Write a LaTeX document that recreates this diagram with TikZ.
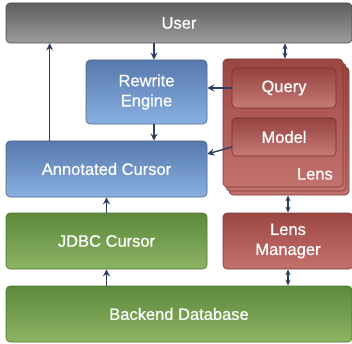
\documentclass[tikz,border=0pt]{standalone}
\usepackage{fontspec}
\setmainfont{Liberation Sans}
\newfontfamily\boxfont[FakeBold=0.6]{Liberation Sans}
\usetikzlibrary{arrows.meta}

\definecolor{graytop}{HTML}{5E5E5E}
\definecolor{graybot}{HTML}{9C9C9C}
\definecolor{blutop}{HTML}{5679AC}
\definecolor{blubot}{HTML}{8AB0E2}
\definecolor{grntop}{HTML}{5E8A3B}
\definecolor{grnbot}{HTML}{8BB464}
\definecolor{redtop}{HTML}{9C4642}
\definecolor{redbot}{HTML}{C4726E}
\definecolor{arrowcol}{HTML}{2C3E62}

\begin{document}
\begin{tikzpicture}[x=1pt,y=-1pt,
  box/.style={rectangle,rounded corners=4pt,inner sep=0pt,align=center,
    text=white,font=\boxfont\fontsize{16.5}{20}\selectfont,line width=0.6pt},
  graybox/.style={box,top color=graytop,bottom color=graybot,draw=graytop!80!black},
  bluebox/.style={box,top color=blutop,bottom color=blubot,draw=blutop!85!black},
  greenbox/.style={box,top color=grntop,bottom color=grnbot,draw=grntop!85!black},
  redbox/.style={box,top color=redtop,bottom color=redbot,draw=redtop!80!black},
  innerred/.style={redbox,top color=redtop!95!black,bottom color=redbot!95!white,draw=redtop!70!black},
  arr/.style={-{Stealth[length=7pt,width=7pt]},line width=1.4pt,draw=arrowcol},
  darr/.style={{Stealth[length=6pt,width=5pt]}-{Stealth[length=6pt,width=5pt]},line width=1.4pt,draw=arrowcol}]
\useasboundingbox (0,0) rectangle (352,344);

% boxes
\node[graybox,minimum width=346pt,minimum height=40pt] (user) at (179,23) {User};
\node[bluebox,minimum width=121pt,minimum height=64pt] (rewrite) at (146.5,92) {Rewrite\\Engine};
\node[bluebox,minimum width=201pt,minimum height=56pt] (annot) at (106.5,169) {Annotated Cursor};
\node[greenbox,minimum width=201pt,minimum height=56pt] (jdbc) at (106.5,241) {JDBC Cursor};
\node[greenbox,minimum width=346pt,minimum height=56pt] (backend) at (179,314) {Backend Database};
\node[redbox,minimum width=130pt,minimum height=56pt] (lensmgr) at (288,241) {Lens\\Manager};

% lens stack
\foreach \dx/\dy/\n in {6/8/lensC,3/4/lensB,0/0/lens}
  \node[redbox,minimum width=120pt,minimum height=128pt] (\n) at (283+\dx,123+\dy) {};
\node[innerred,minimum width=104pt,minimum height=40pt] (query) at (284,88) {Query};
\node[innerred,minimum width=104pt,minimum height=38pt] (model) at (284,137) {Model};
\node[text=white,font=\boxfont\fontsize{16.5}{20}\selectfont,anchor=east,inner sep=0pt] (lenslbl) at (333,174) {Lens};

% arrows
\draw[arr] ([xshift=44pt]annot.north west) -- ([xshift=44pt]annot.north west |- user.south);
\draw[arr] ([xshift=7.5pt]rewrite.north |- user.south) -- ([xshift=7.5pt]rewrite.north);
\draw[darr] ([xshift=2pt]lens.north |- user.south) -- ([xshift=2pt]lens.north);
\draw[arr] (query.west) -- (rewrite.east |- query.west);
\draw[arr] ([yshift=-10pt]model.west) -- ([yshift=15pt]annot.east);
\draw[arr] ([xshift=7.5pt]rewrite.south) -- ([xshift=7.5pt]rewrite.south |- annot.north);
\draw[arr] (jdbc.north) -- (annot.south);
\draw[arr] (jdbc.south |- backend.north) -- (jdbc.south);
\draw[darr] (lensmgr.north |- lensC.south) -- (lensmgr.north);
\draw[darr] (lensmgr.south) -- (lensmgr.south |- backend.north);

\end{tikzpicture}
\end{document}
